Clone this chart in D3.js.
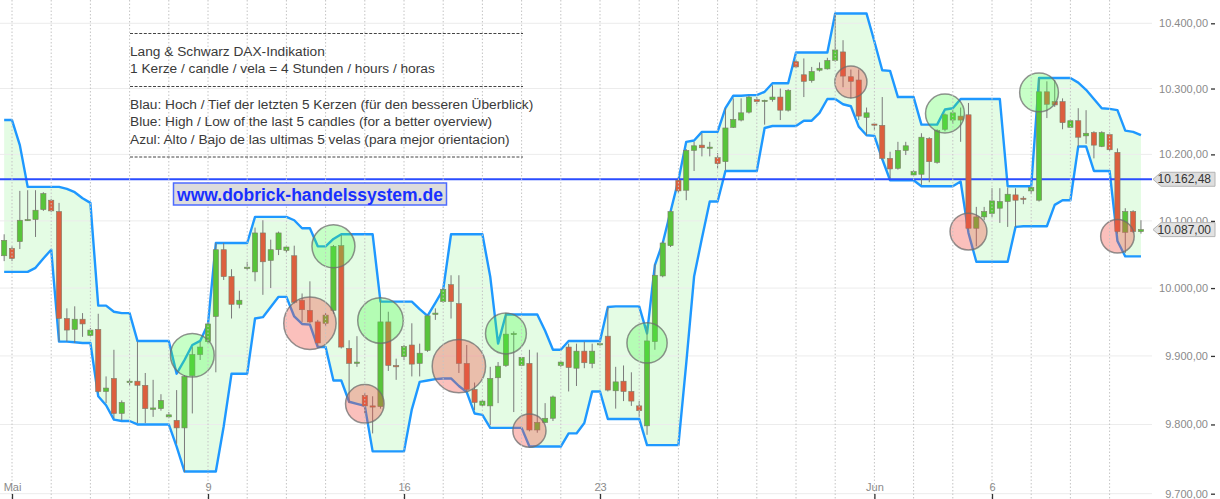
<!DOCTYPE html>
<html lang="de">
<head>
<meta charset="utf-8">
<title>DAX 4h Kerzen</title>
<script src="https://d3js.org/d3.v7.min.js"></script>
<style>
  body { margin: 0; background: #fff; }
  svg { display: block; font-family: "Liberation Sans", Arial, sans-serif; }
  .grid-h line { stroke: #ececec; stroke-width: 1; }
  .grid-v line { stroke: #c4c4c4; stroke-width: 1; stroke-dasharray: 1.5,2; }
  .axis text { fill: #8a8a8a; font-size: 11px; }
  .axis line { stroke: #333; stroke-width: 1.3; }
  .axis path { display: none; }
  .note { fill: #3a3a3a; font-size: 13.7px; }
  .dash { stroke: #444; stroke-width: 1; stroke-dasharray: 3,1.6; }
</style>
</head>
<body>
<script>
// first candle index (trading day 0 = 2. Mai, 5 candles per day)
var firstIndex = -1;

var opens = [
  10048, 10059, 10069, 10101, 10102, 10117, 10131, 10114, 9955, 9939,
  9954, 9930, 9939, 9848, 9867, 9816, 9861, 9863, 9857, 9822,
  9823, 9811, 9806, 9795, 9871, 9902, 9921, 9958, 10057, 10017,
  9976, 10029, 10024, 10082, 10041, 10057, 10056, 10048, 9982, 9967,
  9950, 9948, 9967, 10063, 9911, 9889, 9842, 9827, 9826, 9950,
  9886, 9899, 9916, 9889, 9908, 9961, 9980, 10005, 9977, 9889,
  9851, 9828, 9827, 9868, 9886, 9932, 9886, 9889, 9792, 9803,
  9809, 9886, 9913, 9882, 9907, 9889, 9917, 9929, 9849, 9863,
  9848, 9827, 9798, 9921, 10018, 10063, 10161, 10146, 10206, 10214,
  10210, 10195, 10189, 10241, 10252, 10264, 10283, 10281, 10283, 10287,
  10267, 10341, 10321, 10312, 10328, 10330, 10343, 10356, 10318, 10313,
  10256, 10246, 10244, 10194, 10179, 10206, 10169, 10170, 10224, 10188,
  10238, 10252, 10258, 10260, 10089, 10106, 10111, 10119, 10129, 10139,
  10134, 10145, 10131, 10295, 10280, 10280, 10241, 10251, 10228, 10233,
  10212, 10230, 10203, 10083, 10114, 10084
];
var highs = [
  10080, 10062, 10145, 10146, 10146, 10143, 10133, 10127, 9970, 9973,
  9963, 9941, 9962, 9870, 9909, 9835, 9867, 9921, 9875, 9865,
  9844, 9818, 9850, 9872, 9913, 9921, 9950, 10067, 10067, 10028,
  9996, 10039, 10090, 10101, 10072, 10084, 10062, 10063, 9992, 10010,
  9953, 9963, 10064, 10079, 9923, 9929, 9846, 9841, 9982, 9965,
  9896, 9916, 9948, 9918, 9961, 9970, 10000, 10019, 10019, 9916,
  9861, 9836, 9884, 9891, 9963, 9936, 9898, 9909, 9905, 9831,
  9842, 9893, 9918, 9918, 9921, 9918, 9920, 9972, 9884, 9886,
  9876, 9834, 9945, 10036, 10070, 10116, 10165, 10208, 10219, 10232,
  10219, 10202, 10270, 10285, 10285, 10289, 10287, 10283, 10305, 10300,
  10299, 10344, 10346, 10333, 10340, 10347, 10415, 10374, 10329, 10329,
  10271, 10248, 10287, 10204, 10219, 10219, 10176, 10232, 10226, 10238,
  10262, 10267, 10271, 10278, 10121, 10121, 10149, 10149, 10150, 10149,
  10137, 10151, 10316, 10311, 10313, 10285, 10253, 10270, 10267, 10235,
  10235, 10233, 10209, 10119, 10116, 10101
];
var lows = [
  10040, 10040, 10058, 10100, 10076, 10115, 10113, 9921, 9921, 9919,
  9928, 9929, 9846, 9831, 9809, 9806, 9856, 9802, 9802, 9811,
  9820, 9809, 9772, 9731, 9816, 9894, 9918, 9876, 10012, 9955,
  9970, 10027, 10010, 9990, 10000, 10049, 10052, 9977, 9950, 9948,
  9914, 9943, 9962, 9911, 9831, 9884, 9816, 9787, 9823, 9878,
  9865, 9894, 9870, 9870, 9906, 9953, 9978, 9955, 9875, 9848,
  9821, 9826, 9799, 9831, 9884, 9818, 9885, 9790, 9788, 9802,
  9805, 9884, 9848, 9856, 9882, 9882, 9915, 9848, 9823, 9834,
  9827, 9811, 9785, 9909, 10016, 10061, 10142, 10131, 10175, 10197,
  10197, 10179, 10176, 10240, 10250, 10262, 10276, 10245, 10280, 10252,
  10265, 10331, 10287, 10309, 10326, 10329, 10341, 10302, 10285, 10252,
  10229, 10237, 10192, 10164, 10177, 10199, 10167, 10154, 10158, 10186,
  10235, 10246, 10219, 10087, 10062, 10101, 10106, 10097, 10091, 10091,
  10125, 10140, 10129, 10255, 10272, 10238, 10240, 10212, 10216, 10194,
  10211, 10205, 10081, 10052, 10082, 10081
];
var closes = [
  10071, 10044, 10101, 10102, 10116, 10141, 10115, 9955, 9938, 9954,
  9947, 9938, 9848, 9853, 9816, 9832, 9863, 9857, 9823, 9824,
  9835, 9814, 9795, 9870, 9902, 9913, 9947, 10057, 10017, 9976,
  9982, 10031, 10082, 10039, 10057, 10082, 10061, 9979, 9968, 9950,
  9919, 9960, 10062, 9913, 9889, 9891, 9827, 9826, 9950, 9886,
  9884, 9914, 9888, 9904, 9959, 9963, 9998, 9980, 9889, 9851,
  9832, 9834, 9867, 9885, 9932, 9933, 9898, 9792, 9803, 9809,
  9840, 9891, 9883, 9907, 9890, 9907, 9918, 9850, 9862, 9848,
  9834, 9820, 9922, 10019, 10067, 10114, 10145, 10206, 10213, 10210,
  10211, 10186, 10240, 10253, 10263, 10287, 10280, 10282, 10287, 10267,
  10297, 10333, 10311, 10326, 10331, 10343, 10359, 10319, 10311, 10258,
  10263, 10245, 10194, 10178, 10206, 10213, 10174, 10226, 10189, 10236,
  10260, 10263, 10252, 10089, 10106, 10114, 10130, 10129, 10140, 10131,
  10133, 10150, 10295, 10276, 10275, 10248, 10251, 10226, 10232, 10214,
  10233, 10207, 10084, 10114, 10084, 10087
];

// blue band: high / low of the last 5 candles
var bandHigh = [
  10252, 10252, 10214, 10151, 10151, 10151, 10151, 10151, 10148, 10143,
  10134, 10127, 9974, 9974, 9965, 9963, 9963, 9922, 9922, 9922,
  9922, 9922, 9874, 9894, 9916, 9922, 9947, 10067, 10067, 10067,
  10067, 10067, 10106, 10106, 10106, 10106, 10106, 10101, 10089, 10089,
  10062, 10062, 10073, 10080, 10080, 10080, 10080, 10080, 9980, 9980,
  9980, 9980, 9980, 9969, 9959, 9978, 9998, 10080, 10080, 10080,
  10080, 10080, 10017, 9918, 9961, 9961, 9961, 9961, 9961, 9937,
  9909, 9909, 9922, 9922, 9922, 9922, 9922, 9972, 9973, 9973,
  9973, 9973, 9933, 10034, 10067, 10114, 10161, 10219, 10221, 10234,
  10234, 10234, 10270, 10289, 10289, 10290, 10290, 10295, 10308, 10308,
  10308, 10355, 10355, 10355, 10355, 10355, 10415, 10415, 10415, 10415,
  10415, 10372, 10328, 10327, 10287, 10287, 10287, 10245, 10245, 10245,
  10268, 10270, 10284, 10284, 10284, 10284, 10284, 10284, 10152, 10152,
  10152, 10152, 10316, 10316, 10316, 10316, 10316, 10309, 10298, 10284,
  10270, 10269, 10267, 10236, 10234, 10229
];
var bandLow = [
  10024, 10024, 10024, 10024, 10030, 10044, 10057, 9921, 9921, 9920,
  9919, 9919, 9841, 9828, 9807, 9805, 9805, 9800, 9800, 9800,
  9800, 9800, 9768, 9732, 9732, 9732, 9732, 9732, 9797, 9874,
  9874, 9874, 9955, 9957, 9972, 9987, 9987, 9958, 9947, 9946,
  9913, 9913, 9864, 9864, 9833, 9830, 9827, 9761, 9761, 9761,
  9761, 9761, 9822, 9862, 9864, 9866, 9867, 9867, 9856, 9847,
  9816, 9814, 9795, 9795, 9795, 9795, 9795, 9768, 9768, 9768,
  9768, 9768, 9787, 9787, 9802, 9848, 9848, 9808, 9808, 9808,
  9808, 9808, 9770, 9770, 9770, 9770, 9770, 9889, 10017, 10074,
  10129, 10129, 10175, 10175, 10175, 10175, 10175, 10240, 10243, 10243,
  10243, 10243, 10251, 10251, 10263, 10284, 10284, 10276, 10273, 10242,
  10229, 10228, 10193, 10161, 10161, 10161, 10161, 10152, 10152, 10152,
  10152, 10152, 10159, 10082, 10039, 10039, 10039, 10039, 10039, 10091,
  10092, 10092, 10092, 10092, 10124, 10131, 10131, 10212, 10212, 10175,
  10175, 10175, 10070, 10047, 10047, 10047
];

// signal circles: candle index, price of centre, radius in index points
var signalIndex = [23, 41, 47, 63, 81, 119, 131, 38, 45, 57, 66, 107, 122, 141];
var signalPrice = [9901, 10062, 9952, 9933, 9919, 10262, 10294, 9948, 9830, 9885, 9791, 10310, 10084, 10077];
var signalPoints = [32, 32, 33.5, 30, 29.5, 29.5, 29.5, 38.5, 28, 39, 24, 24.5, 27.5, 25];
var signalType = ["up", "up", "up", "up", "up", "up", "up", "down", "down", "down", "down", "down", "down", "down"];

var priceTicks = [9700, 9800, 9900, 10000, 10100, 10200, 10300, 10400];
var dayTickIndex = [0, 25, 50, 75, 110, 125];
var dayTickLabel = ["Mai", "9", "16", "23", "Jun", "6"];
var refLevel = 10162.48;
var lastPrice = 10087.00;

var noteLines1 = ["Lang & Schwarz DAX-Indikation", "1 Kerze / candle / vela = 4 Stunden / hours / horas"];
var noteLines2 = ["Blau: Hoch / Tief der letzten 5 Kerzen (für den besseren Überblick)",
                  "Blue: High / Low of the last 5 candles (for a better overview)",
                  "Azul: Alto / Bajo de las ultimas 5 velas (para mejor orientacion)"];
var siteUrl = "www.dobrick-handelssystem.de";

var width = 1220, height = 499, plotRight = 1152;

var de = d3.formatLocale({decimal: ",", thousands: ".", grouping: [3], currency: ["", " €"]});
var fmt = de.format(",.2f");

var idx = d3.range(opens.length).map(function(i) { return i + firstIndex; });

var x = d3.scaleLinear().domain([0, 140]).range([12, 1109.6]);
var y = d3.scaleLog().domain([9700, 10400]).range([493.7, 23.3]);

var svg = d3.select("body").append("svg")
    .attr("width", width)
    .attr("height", height);

svg.append("clipPath").attr("id", "plot")
  .append("rect").attr("x", 0).attr("y", 0).attr("width", plotRight).attr("height", height);

var plot = svg.append("g").attr("clip-path", "url(#plot)");

// band fill
var band = d3.area()
    .x(function(d) { return x(idx[d]); })
    .y0(function(d) { return y(bandLow[d]); })
    .y1(function(d) { return y(bandHigh[d]); });

plot.append("path")
    .datum(d3.range(idx.length))
    .attr("d", band)
    .attr("fill", "#e4fce4");

// grid
plot.append("g").attr("class", "grid-h")
  .selectAll("line").data(priceTicks).enter().append("line")
    .attr("x1", 0).attr("x2", plotRight)
    .attr("y1", function(d) { return y(d); })
    .attr("y2", function(d) { return y(d); });

svg.append("g").attr("class", "grid-v")
  .selectAll("line").data(d3.range(0, 141, 5)).enter().append("line")
    .attr("x1", function(d) { return x(d); })
    .attr("x2", function(d) { return x(d); })
    .attr("y1", 0).attr("y2", height);

// band lines
var hiLine = d3.line().x(function(d) { return x(idx[d]); }).y(function(d) { return y(bandHigh[d]); });
var loLine = d3.line().x(function(d) { return x(idx[d]); }).y(function(d) { return y(bandLow[d]); });

plot.append("path").datum(d3.range(idx.length)).attr("d", hiLine)
    .attr("fill", "none").attr("stroke", "#1e98ff").attr("stroke-width", 2.4).attr("stroke-linejoin", "round");
plot.append("path").datum(d3.range(idx.length)).attr("d", loLine)
    .attr("fill", "none").attr("stroke", "#1e98ff").attr("stroke-width", 2.4).attr("stroke-linejoin", "round");

// reference line
plot.append("line")
    .attr("x1", 0).attr("x2", plotRight)
    .attr("y1", y(refLevel)).attr("y2", y(refLevel))
    .attr("stroke", "#2a4cff").attr("stroke-width", 2);

// candles
var candles = plot.append("g").selectAll("g")
    .data(d3.range(idx.length)).enter().append("g");

candles.append("line")
    .attr("x1", function(d) { return x(idx[d]); })
    .attr("x2", function(d) { return x(idx[d]); })
    .attr("y1", function(d) { return y(highs[d]); })
    .attr("y2", function(d) { return y(lows[d]); })
    .attr("stroke", "#7a7a7a").attr("stroke-width", 1);

candles.append("rect")
    .attr("x", function(d) { return x(idx[d]) - 2.6; })
    .attr("width", 5.2)
    .attr("y", function(d) { return y(Math.max(opens[d], closes[d])); })
    .attr("height", function(d) { return Math.max(1.2, Math.abs(y(opens[d]) - y(closes[d]))); })
    .attr("fill", function(d) { return closes[d] >= opens[d] ? "#58c43a" : "#dc5f3e"; })
    .attr("stroke", "#7d7d6a").attr("stroke-width", 0.6);

// signal circles
plot.append("g").selectAll("circle")
    .data(d3.range(signalIndex.length)).enter().append("circle")
    .attr("cx", function(d) { return x(signalIndex[d]); })
    .attr("cy", function(d) { return y(signalPrice[d]); })
    .attr("r", function(d) { return y(signalPrice[d] - signalPoints[d]) - y(signalPrice[d]); })
    .attr("fill", function(d) { return signalType[d] == "up" ? "rgba(70,255,70,0.30)" : "rgba(245,80,70,0.36)"; })
    .attr("stroke", "rgba(110,110,110,0.75)")
    .attr("stroke-width", 1.5);

// y axis (labels left of the tick)
svg.append("g").attr("class", "axis")
    .attr("transform", "translate(1215,0)")
    .call(d3.axisLeft(y).tickValues(priceTicks).tickFormat(fmt).tickSize(4).tickPadding(3));

// x axis
svg.append("g").attr("class", "axis")
    .attr("transform", "translate(0," + height + ")")
    .call(d3.axisTop(x).tickValues(dayTickIndex)
        .tickFormat(function(d, i) { return dayTickLabel[i]; })
        .tickSize(5).tickPadding(3));

// price flags
function flag(value, fill) {
  var cy = y(value);
  var g = svg.append("g");
  g.append("path")
    .attr("d", "M1153," + cy + " L1161," + (cy - 7) + " L1215," + (cy - 7) + " L1215," + (cy + 7) + " L1161," + (cy + 7) + " Z")
    .attr("fill", fill).attr("stroke", "#b4b4b4").attr("stroke-width", 1);
  g.append("text")
    .attr("x", 1211).attr("y", cy).attr("dy", "0.35em")
    .attr("text-anchor", "end")
    .style("font-size", "12px").style("fill", "#333")
    .text(fmt(value));
}
flag(refLevel, "#dedede");
flag(lastPrice, "#e2e2e2");

// annotation block
var note = svg.append("g");
[33.5, 86.5, 157].forEach(function(yy) {
  note.append("line").attr("class", "dash").attr("x1", 130).attr("x2", 523).attr("y1", yy).attr("y2", yy);
});
noteLines1.forEach(function(t, i) {
  note.append("text").attr("class", "note").attr("x", 130).attr("y", 55.5 + i * 17.5).text(t);
});
noteLines2.forEach(function(t, i) {
  note.append("text").attr("class", "note").attr("x", 130).attr("y", 108.5 + i * 17.5).text(t);
});

var url = svg.append("g");
url.append("rect")
    .attr("x", 173.5).attr("y", 183).attr("width", 273).attr("height", 22)
    .attr("fill", "#dcdcdc").attr("stroke", "#4d6bff").attr("stroke-width", 1.5);
url.append("text")
    .attr("x", 310).attr("y", 200.5)
    .attr("text-anchor", "middle")
    .style("font-size", "17.5px").style("font-weight", "bold").style("fill", "#1830ff")
    .text(siteUrl);
</script>
</body>
</html>
